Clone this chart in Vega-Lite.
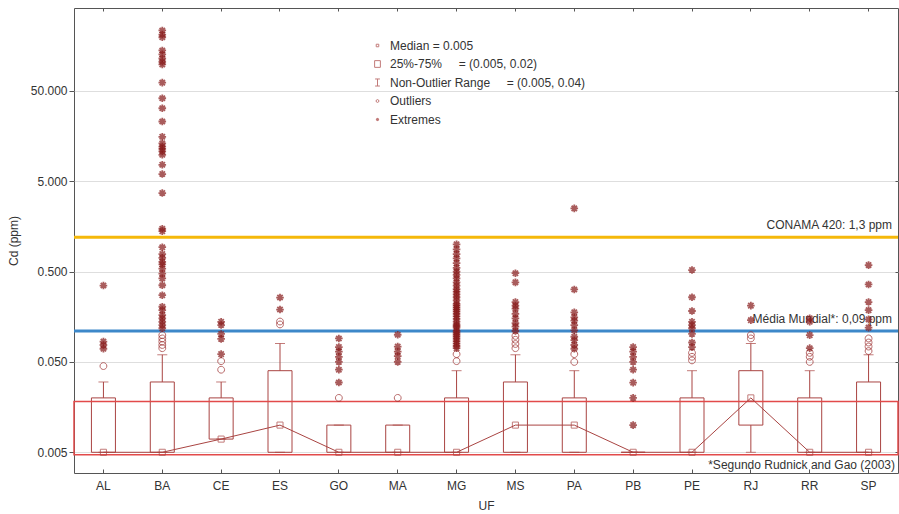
{
"$schema":"https://vega.github.io/schema/vega-lite/v6.json",
"width":824,"height":465,
"autosize":{"type":"none"},
"padding":{"left":74,"top":8,"right":1,"bottom":41},
"background":"white",
"config":{
 "view":{"stroke":"#555","strokeWidth":1},
 "font":"Liberation Sans",
 "axis":{"labelFont":"Liberation Sans","titleFont":"Liberation Sans","labelFontSize":12,"titleFontSize":12,"titleFontWeight":"normal","labelColor":"#333","titleColor":"#333","domain":false,"tickColor":"#555"},
 "legend":{"orient":"none","legendX":295,"legendY":29,"padding":0,"symbolSize":256,"rowPadding":3.5,"labelOffset":4,"labelLimit":500,"labelFontSize":12,"labelFont":"Liberation Sans","labelColor":"#333","symbolStrokeWidth":1}
},
"datasets":{
 "stats":[
  {"uf":"AL","q1":0.005,"q3":0.02,"med":0.005,"wlo":0.005,"whi":0.03},
  {"uf":"BA","q1":0.005,"q3":0.03,"med":0.005,"wlo":0.005,"whi":0.06},
  {"uf":"CE","q1":0.007,"q3":0.02,"med":0.007,"wlo":0.007,"whi":0.03},
  {"uf":"ES","q1":0.005,"q3":0.04,"med":0.01,"wlo":0.005,"whi":0.08},
  {"uf":"GO","q1":0.005,"q3":0.01,"med":0.005,"wlo":0.005,"whi":0.01},
  {"uf":"MA","q1":0.005,"q3":0.01,"med":0.005,"wlo":0.005,"whi":0.01},
  {"uf":"MG","q1":0.005,"q3":0.02,"med":0.005,"wlo":0.005,"whi":0.04},
  {"uf":"MS","q1":0.005,"q3":0.03,"med":0.01,"wlo":0.005,"whi":0.06},
  {"uf":"PA","q1":0.005,"q3":0.02,"med":0.01,"wlo":0.005,"whi":0.04},
  {"uf":"PB","q1":0.005,"q3":0.005,"med":0.005,"wlo":0.005,"whi":0.005},
  {"uf":"PE","q1":0.005,"q3":0.02,"med":0.005,"wlo":0.005,"whi":0.04},
  {"uf":"RJ","q1":0.01,"q3":0.04,"med":0.02,"wlo":0.005,"whi":0.08},
  {"uf":"RR","q1":0.005,"q3":0.02,"med":0.005,"wlo":0.005,"whi":0.04},
  {"uf":"SP","q1":0.005,"q3":0.03,"med":0.005,"wlo":0.005,"whi":0.06}
 ],
 "band":[{"lo":0.0047,"hi":0.0182,"note":"*Segundo Rudnick and Gao (2003)"}],
 "refs":[{"label":"CONAMA 420: 1,3 ppm","v":1.2},{"label":"Média Mundial*: 0,09 ppm","v":0.11}],
 "pts":[
  {"uf":"AL","v":0.045,"type":"Outliers"},
  {"uf":"AL","v":0.070,"type":"Extremes"},{"uf":"AL","v":0.077,"type":"Extremes"},{"uf":"AL","v":0.084,"type":"Extremes"},{"uf":"AL","v":0.35,"type":"Extremes"},
  {"uf":"BA","v":0.071,"type":"Outliers"},{"uf":"BA","v":0.077,"type":"Outliers"},{"uf":"BA","v":0.084,"type":"Outliers"},{"uf":"BA","v":0.091,"type":"Outliers"},{"uf":"BA","v":0.099,"type":"Outliers"},
  {"uf":"BA","v":0.118,"type":"Extremes"},{"uf":"BA","v":0.128,"type":"Extremes"},{"uf":"BA","v":0.139,"type":"Extremes"},{"uf":"BA","v":0.152,"type":"Extremes"},{"uf":"BA","v":0.165,"type":"Extremes"},{"uf":"BA","v":0.187,"type":"Extremes"},{"uf":"BA","v":0.204,"type":"Extremes"},{"uf":"BA","v":0.274,"type":"Extremes"},{"uf":"BA","v":0.353,"type":"Extremes"},{"uf":"BA","v":0.42,"type":"Extremes"},{"uf":"BA","v":0.475,"type":"Extremes"},{"uf":"BA","v":0.54,"type":"Extremes"},{"uf":"BA","v":0.6,"type":"Extremes"},{"uf":"BA","v":0.64,"type":"Extremes"},{"uf":"BA","v":0.71,"type":"Extremes"},{"uf":"BA","v":0.78,"type":"Extremes"},{"uf":"BA","v":0.93,"type":"Extremes"},{"uf":"BA","v":1.4,"type":"Extremes"},{"uf":"BA","v":1.49,"type":"Extremes"},{"uf":"BA","v":3.7,"type":"Extremes"},{"uf":"BA","v":6.0,"type":"Extremes"},{"uf":"BA","v":7.6,"type":"Extremes"},{"uf":"BA","v":9.8,"type":"Extremes"},{"uf":"BA","v":10.7,"type":"Extremes"},{"uf":"BA","v":11.4,"type":"Extremes"},{"uf":"BA","v":12.1,"type":"Extremes"},{"uf":"BA","v":13.1,"type":"Extremes"},{"uf":"BA","v":15.5,"type":"Extremes"},{"uf":"BA","v":22.9,"type":"Extremes"},{"uf":"BA","v":32.1,"type":"Extremes"},{"uf":"BA","v":41.4,"type":"Extremes"},{"uf":"BA","v":61.6,"type":"Extremes"},{"uf":"BA","v":98,"type":"Extremes"},{"uf":"BA","v":105,"type":"Extremes"},{"uf":"BA","v":114,"type":"Extremes"},{"uf":"BA","v":127,"type":"Extremes"},{"uf":"BA","v":140,"type":"Extremes"},{"uf":"BA","v":196,"type":"Extremes"},{"uf":"BA","v":210,"type":"Extremes"},{"uf":"BA","v":233,"type":"Extremes"},
  {"uf":"CE","v":0.041,"type":"Outliers"},{"uf":"CE","v":0.051,"type":"Outliers"},
  {"uf":"CE","v":0.061,"type":"Extremes"},{"uf":"CE","v":0.09,"type":"Extremes"},{"uf":"CE","v":0.102,"type":"Extremes"},{"uf":"CE","v":0.128,"type":"Extremes"},{"uf":"CE","v":0.139,"type":"Extremes"},
  {"uf":"ES","v":0.13,"type":"Outliers"},{"uf":"ES","v":0.14,"type":"Outliers"},
  {"uf":"ES","v":0.19,"type":"Extremes"},{"uf":"ES","v":0.258,"type":"Extremes"},
  {"uf":"GO","v":0.02,"type":"Outliers"},
  {"uf":"GO","v":0.0296,"type":"Extremes"},{"uf":"GO","v":0.041,"type":"Extremes"},{"uf":"GO","v":0.05,"type":"Extremes"},{"uf":"GO","v":0.057,"type":"Extremes"},{"uf":"GO","v":0.065,"type":"Extremes"},{"uf":"GO","v":0.073,"type":"Extremes"},{"uf":"GO","v":0.091,"type":"Extremes"},
  {"uf":"MA","v":0.02,"type":"Outliers"},
  {"uf":"MA","v":0.05,"type":"Extremes"},{"uf":"MA","v":0.058,"type":"Extremes"},{"uf":"MA","v":0.065,"type":"Extremes"},{"uf":"MA","v":0.074,"type":"Extremes"},{"uf":"MA","v":0.1,"type":"Extremes"},
  {"uf":"MG","v":0.051,"type":"Outliers"},{"uf":"MG","v":0.061,"type":"Outliers"},
  {"uf":"MG","v":0.071,"type":"Extremes"},{"uf":"MG","v":0.075,"type":"Extremes"},{"uf":"MG","v":0.08,"type":"Extremes"},{"uf":"MG","v":0.085,"type":"Extremes"},{"uf":"MG","v":0.09,"type":"Extremes"},{"uf":"MG","v":0.095,"type":"Extremes"},{"uf":"MG","v":0.1,"type":"Extremes"},{"uf":"MG","v":0.105,"type":"Extremes"},{"uf":"MG","v":0.11,"type":"Extremes"},{"uf":"MG","v":0.12,"type":"Extremes"},{"uf":"MG","v":0.125,"type":"Extremes"},{"uf":"MG","v":0.13,"type":"Extremes"},{"uf":"MG","v":0.14,"type":"Extremes"},{"uf":"MG","v":0.15,"type":"Extremes"},{"uf":"MG","v":0.16,"type":"Extremes"},{"uf":"MG","v":0.17,"type":"Extremes"},{"uf":"MG","v":0.18,"type":"Extremes"},{"uf":"MG","v":0.19,"type":"Extremes"},{"uf":"MG","v":0.2,"type":"Extremes"},{"uf":"MG","v":0.21,"type":"Extremes"},{"uf":"MG","v":0.22,"type":"Extremes"},{"uf":"MG","v":0.24,"type":"Extremes"},{"uf":"MG","v":0.26,"type":"Extremes"},{"uf":"MG","v":0.28,"type":"Extremes"},{"uf":"MG","v":0.3,"type":"Extremes"},{"uf":"MG","v":0.32,"type":"Extremes"},{"uf":"MG","v":0.35,"type":"Extremes"},{"uf":"MG","v":0.38,"type":"Extremes"},{"uf":"MG","v":0.42,"type":"Extremes"},{"uf":"MG","v":0.46,"type":"Extremes"},{"uf":"MG","v":0.5,"type":"Extremes"},{"uf":"MG","v":0.55,"type":"Extremes"},{"uf":"MG","v":0.62,"type":"Extremes"},{"uf":"MG","v":0.7,"type":"Extremes"},{"uf":"MG","v":0.78,"type":"Extremes"},{"uf":"MG","v":0.88,"type":"Extremes"},{"uf":"MG","v":1.0,"type":"Extremes"},
  {"uf":"MS","v":0.071,"type":"Outliers"},{"uf":"MS","v":0.079,"type":"Outliers"},{"uf":"MS","v":0.088,"type":"Outliers"},{"uf":"MS","v":0.097,"type":"Outliers"},
  {"uf":"MS","v":0.11,"type":"Extremes"},{"uf":"MS","v":0.123,"type":"Extremes"},{"uf":"MS","v":0.134,"type":"Extremes"},{"uf":"MS","v":0.152,"type":"Extremes"},{"uf":"MS","v":0.17,"type":"Extremes"},{"uf":"MS","v":0.195,"type":"Extremes"},{"uf":"MS","v":0.21,"type":"Extremes"},{"uf":"MS","v":0.23,"type":"Extremes"},{"uf":"MS","v":0.38,"type":"Extremes"},{"uf":"MS","v":0.48,"type":"Extremes"},
  {"uf":"PA","v":0.05,"type":"Outliers"},{"uf":"PA","v":0.061,"type":"Outliers"},
  {"uf":"PA","v":0.07,"type":"Extremes"},{"uf":"PA","v":0.077,"type":"Extremes"},{"uf":"PA","v":0.087,"type":"Extremes"},{"uf":"PA","v":0.095,"type":"Extremes"},{"uf":"PA","v":0.112,"type":"Extremes"},{"uf":"PA","v":0.128,"type":"Extremes"},{"uf":"PA","v":0.143,"type":"Extremes"},{"uf":"PA","v":0.156,"type":"Extremes"},{"uf":"PA","v":0.177,"type":"Extremes"},{"uf":"PA","v":0.317,"type":"Extremes"},{"uf":"PA","v":2.5,"type":"Extremes"},
  {"uf":"PB","v":0.01,"type":"Extremes"},{"uf":"PB","v":0.02,"type":"Extremes"},{"uf":"PB","v":0.0295,"type":"Extremes"},{"uf":"PB","v":0.041,"type":"Extremes"},{"uf":"PB","v":0.05,"type":"Extremes"},{"uf":"PB","v":0.057,"type":"Extremes"},{"uf":"PB","v":0.065,"type":"Extremes"},{"uf":"PB","v":0.073,"type":"Extremes"},
  {"uf":"PE","v":0.052,"type":"Outliers"},{"uf":"PE","v":0.057,"type":"Outliers"},{"uf":"PE","v":0.063,"type":"Outliers"},
  {"uf":"PE","v":0.073,"type":"Extremes"},{"uf":"PE","v":0.082,"type":"Extremes"},{"uf":"PE","v":0.102,"type":"Extremes"},{"uf":"PE","v":0.118,"type":"Extremes"},{"uf":"PE","v":0.128,"type":"Extremes"},{"uf":"PE","v":0.139,"type":"Extremes"},{"uf":"PE","v":0.183,"type":"Extremes"},{"uf":"PE","v":0.26,"type":"Extremes"},{"uf":"PE","v":0.52,"type":"Extremes"},
  {"uf":"RJ","v":0.091,"type":"Outliers"},{"uf":"RJ","v":0.099,"type":"Outliers"},
  {"uf":"RJ","v":0.145,"type":"Extremes"},{"uf":"RJ","v":0.21,"type":"Extremes"},
  {"uf":"RR","v":0.05,"type":"Outliers"},{"uf":"RR","v":0.057,"type":"Outliers"},{"uf":"RR","v":0.063,"type":"Outliers"},
  {"uf":"RR","v":0.071,"type":"Extremes"},{"uf":"RR","v":0.099,"type":"Extremes"},{"uf":"RR","v":0.139,"type":"Extremes"},{"uf":"RR","v":0.152,"type":"Extremes"},
  {"uf":"SP","v":0.066,"type":"Outliers"},{"uf":"SP","v":0.074,"type":"Outliers"},{"uf":"SP","v":0.082,"type":"Outliers"},{"uf":"SP","v":0.091,"type":"Outliers"},
  {"uf":"SP","v":0.12,"type":"Extremes"},{"uf":"SP","v":0.148,"type":"Extremes"},{"uf":"SP","v":0.187,"type":"Extremes"},{"uf":"SP","v":0.23,"type":"Extremes"},{"uf":"SP","v":0.36,"type":"Extremes"},{"uf":"SP","v":0.59,"type":"Extremes"}
 ]
},
"resolve":{"axis":{"x":"independent","y":"independent"}},
"layer":[
 {"data":{"name":"stats"},
  "mark":{"type":"bar","width":24,"fill":"white","fillOpacity":0,"stroke":"#a94442","strokeWidth":1},
  "encoding":{
   "x":{"field":"uf","type":"nominal","scale":{"domain":["AL","BA","CE","ES","GO","MA","MG","MS","PA","PB","PE","RJ","RR","SP"],"paddingInner":0,"paddingOuter":0},"axis":{"orient":"bottom","title":"UF","labelAngle":0,"tickSize":-4,"labelPadding":11,"titlePadding":9,"grid":false}},
   "y":{"field":"q1","type":"quantitative","scale":{"type":"log","domain":[0.00295,413],"nice":false},"axis":{"orient":"left","title":"Cd (ppm)","values":[0.005,0.05,0.5,5,50],"labelExpr":"format(datum.value, '.3f')","grid":true,"gridColor":"#dedede","tickSize":5,"labelPadding":2,"titlePadding":10}},
   "y2":{"field":"q3"}
  }},
 {"data":{"name":"band"},
  "mark":{"type":"rect","fill":"white","fillOpacity":0,"stroke":"#e24a4a","strokeWidth":1.5},
  "encoding":{
   "y":{"field":"lo","type":"quantitative","scale":{"type":"log","domain":[0.00295,413],"nice":false},"axis":null},
   "y2":{"field":"hi"}
  }},
 {"data":{"name":"band"},
  "mark":{"type":"text","align":"right","baseline":"middle","dy":10,"dx":-3,"fontSize":12,"color":"#333"},
  "encoding":{
   "x":{"datum":"SP","type":"nominal","bandPosition":1,"scale":{"domain":["AL","BA","CE","ES","GO","MA","MG","MS","PA","PB","PE","RJ","RR","SP"],"paddingInner":0,"paddingOuter":0},"axis":null},
   "y":{"field":"lo","type":"quantitative","scale":{"type":"log","domain":[0.00295,413],"nice":false},"axis":null},
   "text":{"field":"note"}
  }},
 {"data":{"name":"refs"},
  "mark":{"type":"rule","strokeWidth":3},
  "encoding":{
   "y":{"field":"v","type":"quantitative","scale":{"type":"log","domain":[0.00295,413],"nice":false},"axis":null},
   "color":{"field":"label","type":"nominal","scale":{"domain":["CONAMA 420: 1,3 ppm","Média Mundial*: 0,09 ppm"],"range":["#f5b80a","#3d88c9"]},"legend":null}
  }},
 {"data":{"name":"refs"},
  "mark":{"type":"text","align":"right","baseline":"middle","dy":-12,"dx":-6,"fontSize":12,"color":"#333"},
  "encoding":{
   "x":{"datum":"SP","type":"nominal","bandPosition":1,"scale":{"domain":["AL","BA","CE","ES","GO","MA","MG","MS","PA","PB","PE","RJ","RR","SP"],"paddingInner":0,"paddingOuter":0},"axis":null},
   "y":{"field":"v","type":"quantitative","scale":{"type":"log","domain":[0.00295,413],"nice":false},"axis":null},
   "text":{"field":"label"}
  }},
 {"data":{"name":"stats"},
  "mark":{"type":"rule","color":"#a94442","strokeWidth":1},
  "encoding":{
   "x":{"field":"uf","type":"nominal","scale":{"domain":["AL","BA","CE","ES","GO","MA","MG","MS","PA","PB","PE","RJ","RR","SP"],"paddingInner":0,"paddingOuter":0},"axis":{"orient":"top","labels":false,"title":null,"tickSize":-3,"offset":0,"grid":false}},
   "y":{"field":"q3","type":"quantitative","scale":{"type":"log","domain":[0.00295,413],"nice":false},"axis":{"orient":"right","labels":false,"title":null,"values":[0.005,0.05,0.5,5,50],"tickSize":-3,"offset":0,"grid":false}},
   "y2":{"field":"whi"}
  }},
 {"data":{"name":"stats"},
  "mark":{"type":"rule","color":"#a94442","strokeWidth":1},
  "encoding":{
   "x":{"field":"uf","type":"nominal","scale":{"domain":["AL","BA","CE","ES","GO","MA","MG","MS","PA","PB","PE","RJ","RR","SP"],"paddingInner":0,"paddingOuter":0},"axis":null},
   "y":{"field":"wlo","type":"quantitative","scale":{"type":"log","domain":[0.00295,413],"nice":false},"axis":null},
   "y2":{"field":"q1"}
  }},
 {"data":{"name":"stats"},
  "mark":{"type":"tick","color":"#a94442","size":10,"thickness":1},
  "encoding":{
   "x":{"field":"uf","type":"nominal","scale":{"domain":["AL","BA","CE","ES","GO","MA","MG","MS","PA","PB","PE","RJ","RR","SP"],"paddingInner":0,"paddingOuter":0},"axis":null},
   "y":{"field":"whi","type":"quantitative","scale":{"type":"log","domain":[0.00295,413],"nice":false},"axis":null}
  }},
 {"data":{"name":"stats"},
  "mark":{"type":"tick","color":"#a94442","size":10,"thickness":1},
  "encoding":{
   "x":{"field":"uf","type":"nominal","scale":{"domain":["AL","BA","CE","ES","GO","MA","MG","MS","PA","PB","PE","RJ","RR","SP"],"paddingInner":0,"paddingOuter":0},"axis":null},
   "y":{"field":"wlo","type":"quantitative","scale":{"type":"log","domain":[0.00295,413],"nice":false},"axis":null}
  }},
 {"data":{"name":"stats"},
  "mark":{"type":"line","color":"#a94442","strokeWidth":1},
  "encoding":{
   "x":{"field":"uf","type":"nominal","scale":{"domain":["AL","BA","CE","ES","GO","MA","MG","MS","PA","PB","PE","RJ","RR","SP"],"paddingInner":0,"paddingOuter":0},"axis":null},
   "y":{"field":"med","type":"quantitative","scale":{"type":"log","domain":[0.00295,413],"nice":false},"axis":null}
  }},
 {"data":{"name":"stats"},
  "mark":{"type":"point","filled":false,"color":"#a94442","strokeWidth":1,"size":1444},
  "encoding":{
   "x":{"field":"uf","type":"nominal","scale":{"domain":["AL","BA","CE","ES","GO","MA","MG","MS","PA","PB","PE","RJ","RR","SP"],"paddingInner":0,"paddingOuter":0},"axis":null},
   "y":{"field":"med","type":"quantitative","scale":{"type":"log","domain":[0.00295,413],"nice":false},"axis":null},
   "shape":{"datum":"Median = 0.005","type":"nominal","title":null,"scale":{"domain":["Median = 0.005","25%-75%\u00a0\u00a0\u00a0\u00a0 = (0.005, 0.02)","Non-Outlier Range\u00a0\u00a0\u00a0\u00a0 = (0.005, 0.04)","Outliers","Extremes"],"range":["M-0.16,-0.16H0.16V0.16H-0.16Z","M-0.36,-0.42H0.36V0.42H-0.36Z","M-0.3,-0.44H0.3M0,-0.44V0.44M-0.3,0.44H0.3","M-0.18,0A0.18,0.18,0,1,0,0.18,0A0.18,0.18,0,1,0,-0.18,0Z","M0,-0.2V0.2M-0.2,0H0.2M-0.14,-0.14L0.14,0.14M-0.14,0.14L0.14,-0.14"]}}
  }},
 {"data":{"name":"pts"},
  "transform":[{"filter":"datum.type == 'Outliers'"}],
  "mark":{"type":"point","filled":false,"color":"#9b2a2a","strokeWidth":1,"size":1444},
  "encoding":{
   "x":{"field":"uf","type":"nominal","scale":{"domain":["AL","BA","CE","ES","GO","MA","MG","MS","PA","PB","PE","RJ","RR","SP"],"paddingInner":0,"paddingOuter":0},"axis":null},
   "y":{"field":"v","type":"quantitative","scale":{"type":"log","domain":[0.00295,413],"nice":false},"axis":null},
   "shape":{"field":"type","type":"nominal","title":null,"scale":{"domain":["Median = 0.005","25%-75%\u00a0\u00a0\u00a0\u00a0 = (0.005, 0.02)","Non-Outlier Range\u00a0\u00a0\u00a0\u00a0 = (0.005, 0.04)","Outliers","Extremes"],"range":["M-0.16,-0.16H0.16V0.16H-0.16Z","M-0.36,-0.42H0.36V0.42H-0.36Z","M-0.3,-0.44H0.3M0,-0.44V0.44M-0.3,0.44H0.3","M-0.18,0A0.18,0.18,0,1,0,0.18,0A0.18,0.18,0,1,0,-0.18,0Z","M0,-0.2V0.2M-0.2,0H0.2M-0.14,-0.14L0.14,0.14M-0.14,0.14L0.14,-0.14"]}}
  }},
 {"data":{"name":"pts"},
  "transform":[{"filter":"datum.type == 'Extremes'"}],
  "mark":{"type":"point","filled":false,"color":"#861818","strokeWidth":1.8,"size":1444},
  "encoding":{
   "x":{"field":"uf","type":"nominal","scale":{"domain":["AL","BA","CE","ES","GO","MA","MG","MS","PA","PB","PE","RJ","RR","SP"],"paddingInner":0,"paddingOuter":0},"axis":null},
   "y":{"field":"v","type":"quantitative","scale":{"type":"log","domain":[0.00295,413],"nice":false},"axis":null},
   "shape":{"field":"type","type":"nominal","title":null,"scale":{"domain":["Median = 0.005","25%-75%\u00a0\u00a0\u00a0\u00a0 = (0.005, 0.02)","Non-Outlier Range\u00a0\u00a0\u00a0\u00a0 = (0.005, 0.04)","Outliers","Extremes"],"range":["M-0.16,-0.16H0.16V0.16H-0.16Z","M-0.36,-0.42H0.36V0.42H-0.36Z","M-0.3,-0.44H0.3M0,-0.44V0.44M-0.3,0.44H0.3","M-0.18,0A0.18,0.18,0,1,0,0.18,0A0.18,0.18,0,1,0,-0.18,0Z","M0,-0.2V0.2M-0.2,0H0.2M-0.14,-0.14L0.14,0.14M-0.14,0.14L0.14,-0.14"]}}
  }}
]
}
